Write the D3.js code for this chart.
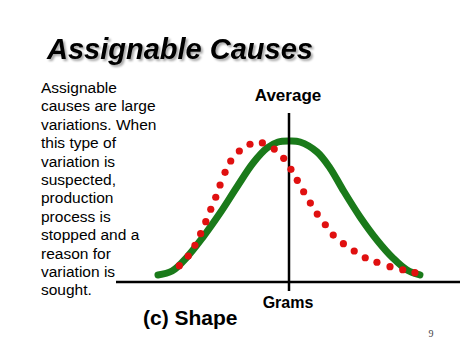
<!DOCTYPE html>
<html>
<head>
<meta charset="utf-8">
<script src="https://cdn.jsdelivr.net/npm/d3@7"></script>
<style>
  html, body { margin: 0; padding: 0; background: #fff; }
  svg { display: block; }
</style>
</head>
<body>
<svg id="chart" width="474" height="355"></svg>
<script>
// ---- data ----
const titleText = "Assignable Causes";
const bodyLines = ["Assignable", "causes are large", "variations. When", "this type of",
  "variation is", "suspected,", "production", "process is", "stopped and a",
  "reason for", "variation is", "sought."];
const xLabel = "Grams";
const yLabel = "Average";
const caption = "(c) Shape";
const pageNumber = "9";

// normal (in control) distribution, drawn as solid green line
const normalX = [-7.56, -6.74, -5.87, -4.94, -3.95, -2.97, -2.03, -1.22, -0.58, 0.12, 0.70, 1.69, 2.44, 3.20, 4.19, 5.17, 6.10, 6.92, 7.67];
const normalY = [0.05, 0.078, 0.177, 0.319, 0.489, 0.674, 0.844, 0.950, 0.993, 1.0, 0.993, 0.922, 0.809, 0.652, 0.461, 0.298, 0.170, 0.085, 0.050];

// shifted / skewed shape, drawn as red dots
const shapeX = [-6.32, -5.80, -5.41, -5.08, -4.78, -4.49, -4.20, -3.95, -3.66, -3.33, -2.83, -2.21, -1.49, -0.80, -0.25, 0.17, 0.54, 0.91, 1.30, 1.70, 2.17, 2.63, 3.22, 3.85, 4.49, 5.17, 5.93, 6.67, 7.38];
const shapeY = [0.116, 0.184, 0.260, 0.343, 0.428, 0.516, 0.601, 0.688, 0.778, 0.858, 0.929, 0.977, 0.986, 0.943, 0.877, 0.799, 0.721, 0.640, 0.560, 0.482, 0.406, 0.333, 0.272, 0.220, 0.172, 0.140, 0.109, 0.087, 0.066];

const xDomain = [-10, 10];
const yDomain = [0, 1];

// ---- drawing ----
const svg = d3.select("#chart");
const x = d3.scaleLinear().domain(xDomain).range([116, 460]);
const y = d3.scaleLinear().domain(yDomain).range([282, 141]);

const defs = svg.append("defs");
const f = defs.append("filter").attr("id", "shadow")
  .attr("x", "-5%").attr("y", "-20%").attr("width", "115%").attr("height", "150%");
f.append("feDropShadow").attr("dx", 2).attr("dy", 2).attr("stdDeviation", 1)
  .attr("flood-color", "#000").attr("flood-opacity", 0.35);

// title with shadow
svg.append("text").attr("x", 47).attr("y", 59).text(titleText)
  .attr("font-family", "Liberation Sans, Arial, sans-serif").attr("font-weight", "bold")
  .attr("font-style", "italic").attr("font-size", 29).attr("fill", "#000")
  .attr("filter", "url(#shadow)");

// body text
svg.append("g").selectAll("text").data(bodyLines).join("text")
  .attr("x", 41).attr("y", (d, i) => 93 + i * 18.4)
  .attr("font-family", "Liberation Sans, Arial, sans-serif").attr("font-size", 15.5)
  .attr("fill", "#000").text(d => d);

// green curve
const pts = normalX.map((v, i) => [v, normalY[i]]);
svg.append("path").datum(pts)
  .attr("d", d3.line().x(d => x(d[0])).y(d => y(d[1])).curve(d3.curveCatmullRom))
  .attr("fill", "none").attr("stroke", "#1a7a1a").attr("stroke-width", 7)
  .attr("stroke-linecap", "round").attr("stroke-linejoin", "round");

// x axis line (baseline)
svg.append("line").attr("x1", x(xDomain[0])).attr("x2", x(xDomain[1]))
  .attr("y1", y(0)).attr("y2", y(0)).attr("stroke", "#000").attr("stroke-width", 2.5);

// average vertical line
svg.append("line").attr("x1", x(0) + 1).attr("x2", x(0) + 1)
  .attr("y1", 113).attr("y2", 291).attr("stroke", "#000").attr("stroke-width", 2.5);

// red dots
const dots = shapeX.map((v, i) => [v, shapeY[i]]);
svg.append("g").selectAll("circle").data(dots).join("circle")
  .attr("cx", d => x(d[0])).attr("cy", d => y(d[1])).attr("r", 3.6)
  .attr("fill", "#e01010");

// labels
svg.append("text").attr("x", x(0)).attr("y", 101).attr("text-anchor", "middle")
  .attr("font-family", "Liberation Sans, Arial, sans-serif").attr("font-weight", "bold")
  .attr("font-size", 17).text(yLabel);
svg.append("text").attr("x", x(0)).attr("y", 308).attr("text-anchor", "middle")
  .attr("font-family", "Liberation Sans, Arial, sans-serif").attr("font-weight", "bold")
  .attr("font-size", 16).text(xLabel);
svg.append("text").attr("x", 143).attr("y", 325)
  .attr("font-family", "Liberation Sans, Arial, sans-serif").attr("font-weight", "bold")
  .attr("font-size", 21).text(caption);
svg.append("text").attr("x", 431).attr("y", 337).attr("text-anchor", "middle")
  .attr("font-family", "Liberation Serif, Times New Roman, serif")
  .attr("font-size", 10).attr("fill", "#444").text(pageNumber);
</script>
</body>
</html>
